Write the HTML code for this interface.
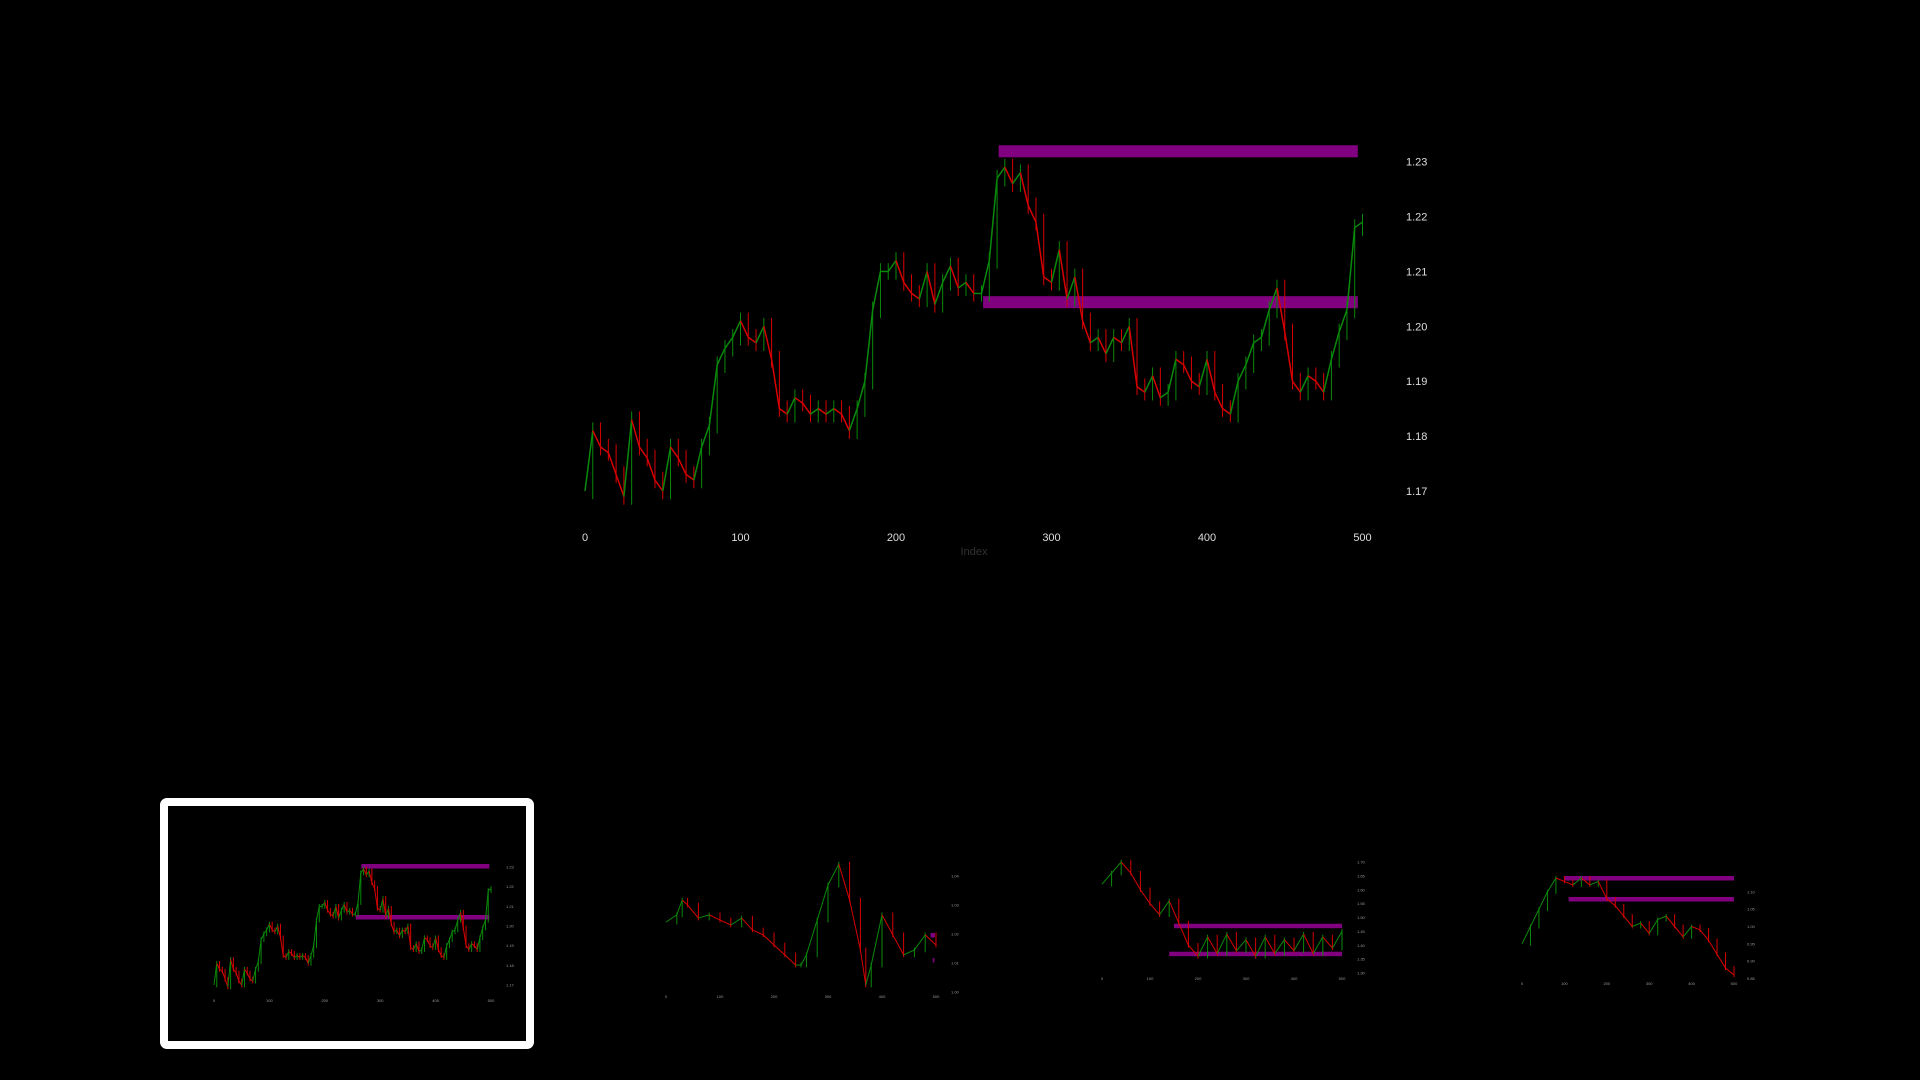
<!DOCTYPE html>
<html><head><meta charset="utf-8"><style>
html,body{margin:0;padding:0;background:#000;width:1920px;height:1080px;overflow:hidden}
svg{display:block}
text{font-family:"Liberation Sans",sans-serif}
</style></head><body>
<svg id="root" width="1920" height="1080">
<rect x="0" y="0" width="1920" height="1080" fill="#000"/>
<g id="main"></g>
<rect x="164" y="802" width="366" height="243" fill="none" stroke="#fff" stroke-width="8" rx="3"/>
<g id="t1"></g>
<g id="t2"></g>
<g id="t3"></g>
<g id="t4"></g>
</svg>
<script>
const mainIdx=[0,5,10,15,20,25,30,35,40,45,50,55,60,65,70,75,80,85,90,95,100,105,110,115,120,125,130,135,140,145,150,155,160,165,170,175,180,185,190,195,200,205,210,215,220,225,230,235,240,245,250,255,260,265,270,275,280,285,290,295,300,305,310,315,320,325,330,335,340,345,350,355,360,365,370,375,380,385,390,395,400,405,410,415,420,425,430,435,440,445,450,455,460,465,470,475,480,485,490,495,500];
const mainClose=[1.170,1.181,1.178,1.177,1.173,1.169,1.183,1.178,1.176,1.172,1.170,1.178,1.176,1.173,1.172,1.178,1.182,1.193,1.196,1.198,1.201,1.198,1.197,1.200,1.194,1.185,1.184,1.187,1.186,1.184,1.185,1.184,1.185,1.184,1.181,1.185,1.190,1.203,1.210,1.210,1.212,1.208,1.206,1.205,1.210,1.204,1.208,1.211,1.207,1.208,1.206,1.206,1.212,1.227,1.229,1.226,1.228,1.222,1.219,1.209,1.208,1.214,1.205,1.209,1.201,1.197,1.198,1.195,1.198,1.197,1.200,1.189,1.188,1.191,1.187,1.188,1.194,1.193,1.190,1.189,1.194,1.188,1.185,1.184,1.190,1.193,1.197,1.198,1.203,1.207,1.199,1.190,1.188,1.191,1.190,1.188,1.194,1.199,1.203,1.218,1.219];
const xTicks=[0,100,200,300,400,500];
const yTicks=[1.17,1.18,1.19,1.20,1.21,1.22,1.23];
const bandStart=[266,256];
const bandEnd=[497,497];
const bandLow=[1.2308,1.2033];
const bandHigh=[1.2330,1.2055];

const t2Idx=[0,20,30,40,60,80,100,120,140,160,180,200,220,240,250,260,280,300,320,340,360,370,380,400,420,440,460,480,500];
const t2Val=[1.0241,1.0266,1.0317,1.0300,1.0255,1.0266,1.0248,1.0231,1.0255,1.0214,1.0197,1.0162,1.0128,1.0093,1.0093,1.0128,1.0248,1.0369,1.0441,1.0317,1.0145,1.0024,1.0093,1.0266,1.0197,1.0128,1.0145,1.0197,1.0162];
const t2Ticks=[1.00,1.01,1.02,1.03,1.04];
const t3Idx=[0,20,40,60,80,100,120,140,160,180,200,220,240,260,280,300,320,340,360,380,400,420,440,460,480,500];
const t3Val=[1.62,1.66,1.70,1.66,1.60,1.55,1.51,1.56,1.48,1.40,1.36,1.43,1.37,1.44,1.38,1.42,1.36,1.43,1.37,1.42,1.38,1.44,1.37,1.43,1.39,1.45];
const t3Ticks=[1.30,1.35,1.40,1.45,1.50,1.55,1.60,1.65,1.70];
const t4Idx=[0,20,40,60,80,100,120,140,160,180,200,220,240,260,280,300,320,340,360,380,400,420,440,460,480,500];
const t4Val=[0.95,1.00,1.05,1.10,1.14,1.13,1.12,1.14,1.12,1.13,1.08,1.06,1.03,1.00,1.01,0.98,1.02,1.03,1.00,0.97,1.00,0.99,0.96,0.92,0.88,0.86];
const t4Ticks=[0.85,0.90,0.95,1.00,1.05,1.10];

const NS="http://www.w3.org/2000/svg";
function mk(p,tag,at){const e=document.createElementNS(NS,tag);for(const k in at)e.setAttribute(k,at[k]);p.appendChild(e);return e;}

function drawCandles(g,x,y,idx,cl,bw,wick){
  for(let i=1;i<idx.length;i++){
    const o=cl[i-1],c=cl[i];const up=c>=o;const col=up?"#0a8a0a":"#d80000";
    const w=mk(g,"line",{x1:x(idx[i]),x2:x(idx[i]),y1:y(Math.max(o,c)+wick),y2:y(Math.min(o,c)-wick),stroke:col,"stroke-width":1});
    
    
    const x0=x(idx[i-1]),x1=x(idx[i]);
    const b=mk(g,"line",{x1:x0,x2:x1,y1:y(o),y2:y(c),stroke:col,"stroke-width":bw});
    
    
  }
}

// main chart
(function(){
  const g=document.getElementById('main');
  const x=v=>585+v/500*777.5, y=v=>161.7+(1.23-v)/0.06*329.3;
  for(let i=0;i<bandStart.length;i++){
    const r=mk(g,"rect",{x:x(bandStart[i]),y:y(bandHigh[i]),width:x(bandEnd[i])-x(bandStart[i]),height:y(bandLow[i])-y(bandHigh[i]),fill:"#800080"});
    
    
  }
  drawCandles(g,x,y,mainIdx,mainClose,1.5,0.0015);
  xTicks.forEach(t=>{const e=mk(g,"text",{x:x(t),y:541,fill:"#ddd","font-size":11,"text-anchor":"middle"});e.textContent=t;
    
    });
  yTicks.forEach(t=>{const e=mk(g,"text",{x:1406,y:y(t)+4,fill:"#ddd","font-size":11});e.textContent=t.toFixed(2);
    
    });
  const l=mk(g,"text",{x:974,y:555,fill:"#333","font-size":11,"text-anchor":"middle"});l.textContent="Index";
  
  
})();

function thumb(id,idx,vals,ticks,x0,x1,yTop,yBot,vTop,vBot,tickY,labX,bands){
  const g=document.getElementById(id);
  const x=v=>x0+v/500*(x1-x0), y=v=>yTop+(vTop-v)/(vTop-vBot)*(yBot-yTop);
  bands.forEach(b=>{const r=mk(g,"rect",{x:x(b[0]),y:b[2]-2,width:x(b[1])-x(b[0]),height:4.5,fill:"#800080"});
    
    });
  drawCandles(g,x,y,idx,vals,1,(vTop-vBot)*0.02);
  xTicks.forEach(t=>{const e=mk(g,"text",{x:x(t),y:tickY,fill:"#999","font-size":4,"text-anchor":"middle"});e.textContent=t;
    
    });
  ticks.forEach(t=>{const e=mk(g,"text",{x:labX,y:y(t)+1.5,fill:"#999","font-size":4});e.textContent=t.toFixed(2);
    
    });
}
thumb('t1',mainIdx,mainClose,yTicks,214,491,867,985,1.23,1.17,1002,506,[[266,497,866],[256,497,917]]);
thumb('t2',t2Idx,t2Val,t2Ticks,666,936,876,992,1.04,1.00,998,951,[[490,498,935],[494,497,960]]);
thumb('t3',t3Idx,t3Val,t3Ticks,1102,1342,862,973,1.70,1.30,980,1357,[[150,500,925.7],[140,500,953.7]]);
thumb('t4',t4Idx,t4Val,t4Ticks,1522,1734,878,975,1.14,0.86,985,1747,[[100,500,878],[110,500,899]]);
</script>
</body></html>
